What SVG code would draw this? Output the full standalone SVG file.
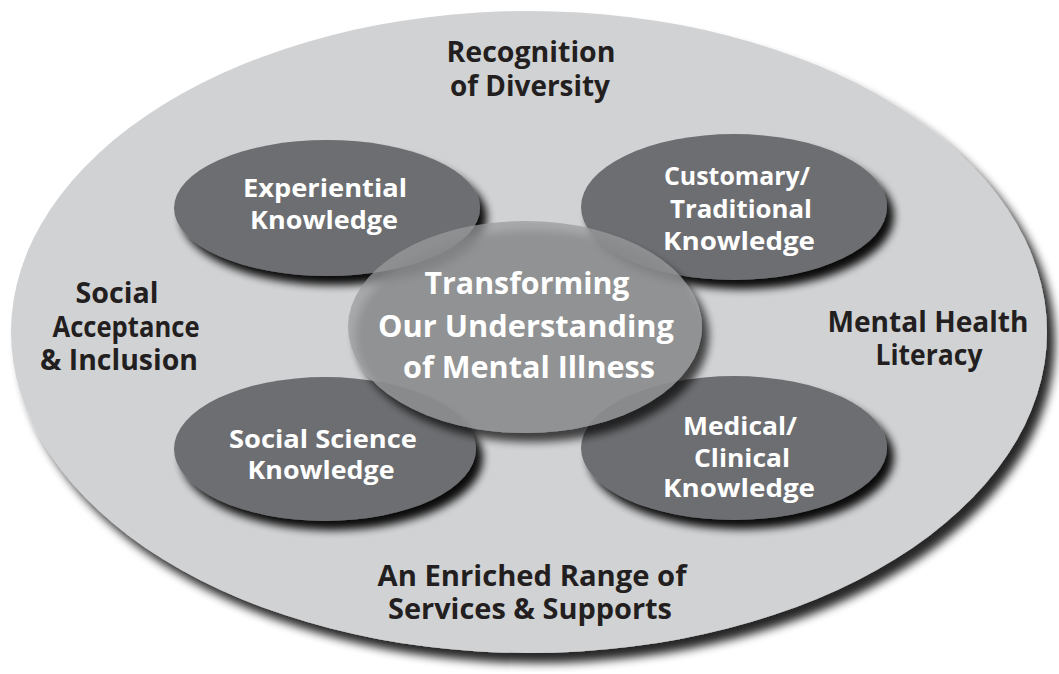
<svg xmlns="http://www.w3.org/2000/svg" width="1059" height="674" viewBox="0 0 1059 674">
<defs>
<filter id="sh" x="-10%" y="-10%" width="130%" height="140%">
<feGaussianBlur in="SourceAlpha" stdDeviation="4"/>
<feOffset dx="7" dy="9" result="o"/>
<feComponentTransfer><feFuncA type="linear" slope="0.95"/></feComponentTransfer>
<feMerge><feMergeNode/><feMergeNode in="SourceGraphic"/></feMerge>
</filter>
<filter id="shBig" x="-5%" y="-5%" width="115%" height="120%">
<feGaussianBlur in="SourceAlpha" stdDeviation="5"/>
<feOffset dx="8" dy="10"/>
<feComponentTransfer><feFuncA type="linear" slope="0.85"/></feComponentTransfer>
<feMerge><feMergeNode/><feMergeNode in="SourceGraphic"/></feMerge>
</filter>
<style>
.outer{fill:#d1d2d4}
.petal{fill:#6d6e71}
.core{fill:#9a9b9d;fill-opacity:0.74}
.dark{font-family:"Open Sans","Liberation Sans",sans-serif;font-weight:bold;font-size:28px;fill:#231f20;text-anchor:middle}
.white{font-family:"Open Sans","Liberation Sans",sans-serif;font-weight:bold;font-size:25px;fill:#ffffff;text-anchor:middle}
.big{font-size:31px}
</style>
</defs>
<rect width="1059" height="674" fill="#ffffff"/>
<g id="outer-circle">
<ellipse class="outer" cx="529" cy="332" rx="518" ry="321" filter="url(#shBig)"/>
</g>
<g id="experiential">
<ellipse class="petal" cx="327" cy="208" rx="153" ry="68" filter="url(#sh)"/>
</g>
<g id="customary">
<ellipse class="petal" cx="734" cy="207" rx="153" ry="73" filter="url(#sh)"/>
</g>
<g id="social-science">
<ellipse class="petal" cx="325" cy="449" rx="151" ry="72" filter="url(#sh)"/>
</g>
<g id="medical">
<ellipse class="petal" cx="734" cy="448" rx="153" ry="72" filter="url(#sh)"/>
</g>
<g id="center">
<ellipse class="core" cx="525" cy="327" rx="177" ry="106" filter="url(#sh)"/>
</g>
<g id="connectors"/>
<g id="labels">
<g id="recognition">
<text class="dark" x="531" y="62" textLength="169" lengthAdjust="spacingAndGlyphs">Recognition</text>
<text class="dark" x="530" y="96" textLength="160" lengthAdjust="spacingAndGlyphs">of Diversity</text>
</g>
<g id="social-acceptance">
<text class="dark" x="117" y="303" textLength="83" lengthAdjust="spacingAndGlyphs">Social</text>
<text class="dark" x="126" y="337" textLength="147" lengthAdjust="spacingAndGlyphs">Acceptance</text>
<text class="dark" x="119" y="370" textLength="158" lengthAdjust="spacingAndGlyphs">&amp; Inclusion</text>
</g>
<g id="mental-health-literacy">
<text class="dark" x="928" y="332" textLength="201" lengthAdjust="spacingAndGlyphs">Mental Health</text>
<text class="dark" x="929" y="365" textLength="107" lengthAdjust="spacingAndGlyphs">Literacy</text>
</g>
<g id="enriched-range">
<text class="dark" x="532" y="586" textLength="309" lengthAdjust="spacingAndGlyphs">An Enriched Range of</text>
<text class="dark" x="530" y="619" textLength="284" lengthAdjust="spacingAndGlyphs">Services &amp; Supports</text>
</g>
<text class="white" x="325" y="197" textLength="164" lengthAdjust="spacingAndGlyphs">Experiential</text>
<text class="white" x="324" y="229" textLength="148" lengthAdjust="spacingAndGlyphs">Knowledge</text>
<text class="white" x="737" y="185" textLength="146" lengthAdjust="spacingAndGlyphs">Customary/</text>
<text class="white" x="741" y="218" textLength="142" lengthAdjust="spacingAndGlyphs">Traditional</text>
<text class="white" x="739" y="250" textLength="152" lengthAdjust="spacingAndGlyphs">Knowledge</text>
<text class="white" x="323" y="448" textLength="188" lengthAdjust="spacingAndGlyphs">Social Science</text>
<text class="white" x="321" y="479" textLength="147" lengthAdjust="spacingAndGlyphs">Knowledge</text>
<text class="white" x="740" y="435" textLength="114" lengthAdjust="spacingAndGlyphs">Medical/</text>
<text class="white" x="742" y="467" textLength="96" lengthAdjust="spacingAndGlyphs">Clinical</text>
<text class="white" x="739" y="497" textLength="152" lengthAdjust="spacingAndGlyphs">Knowledge</text>
<text class="white big" x="527" y="294" textLength="205" lengthAdjust="spacingAndGlyphs">Transforming</text>
<text class="white big" x="526" y="337" textLength="296" lengthAdjust="spacingAndGlyphs">Our Understanding</text>
<text class="white big" x="529" y="378" textLength="252" lengthAdjust="spacingAndGlyphs">of Mental Illness</text>
</g>
</svg>
